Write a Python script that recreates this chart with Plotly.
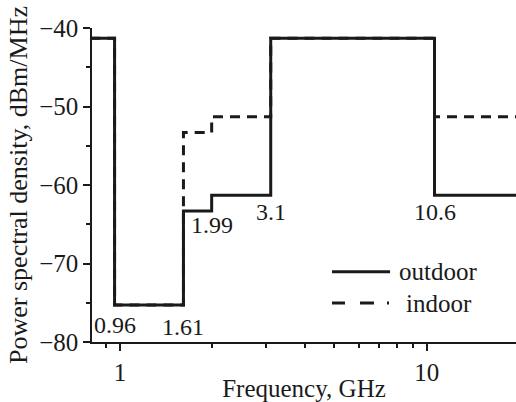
import plotly.graph_objects as go
import math

# Frequency band edges (GHz) and mask levels (dBm/MHz)
freq_edges = [0.8, 0.96, 1.61, 1.99, 3.1, 10.6, 20.0]
outdoor_levels = [-41.3, -75.3, -63.3, -61.3, -41.3, -61.3, -61.3]
indoor_levels = [-41.3, -75.3, -53.3, -51.3, -41.3, -51.3, -51.3]

# Edge labels
label_freqs = [0.96, 1.61, 1.99, 3.1, 10.6]
label_texts = ["0.96", "1.61", "1.99", "3.1", "10.6"]
label_levels = [-77.8, -78.1, -65.1, -63.4, -63.4]

x_tickvals = [1, 10]
x_minor = [0.9, 2, 3, 4, 5, 6, 7, 8, 9]
y_tickvals = [-80, -70, -60, -50, -40]
y_minor = [-75, -65, -55, -45]

FONT = "'Liberation Serif', 'Times New Roman', Times, serif"
INK = "#1a1a1a"

fig = go.Figure()
fig.add_trace(go.Scatter(x=freq_edges, y=indoor_levels, mode="lines", line_shape="hv",
                         line=dict(color=INK, width=3, dash="10px,7px"),
                         name="indoor", showlegend=False))
fig.add_trace(go.Scatter(x=freq_edges, y=outdoor_levels, mode="lines", line_shape="hv",
                         line=dict(color=INK, width=3),
                         name="outdoor", showlegend=False))

for f, t, lv in zip(label_freqs, label_texts, label_levels):
    fig.add_annotation(x=math.log10(f), y=lv, text=t, showarrow=False,
                       font=dict(family=FONT, size=24, color=INK))

# Legend (drawn manually)
fig.add_shape(type="line", xref="paper", yref="paper", x0=0.566, x1=0.703, y0=0.224, y1=0.224,
              line=dict(color=INK, width=3))
fig.add_shape(type="line", xref="paper", yref="paper", x0=0.566, x1=0.705, y0=0.124, y1=0.124,
              line=dict(color=INK, width=3, dash="13px,15px,14px,13px,2px,20px"))
fig.add_annotation(xref="paper", yref="paper", x=0.719, y=0.224, xanchor="left", yanchor="middle",
                   text="outdoor", showarrow=False, font=dict(family=FONT, size=25, color=INK))
fig.add_annotation(xref="paper", yref="paper", x=0.736, y=0.124, xanchor="left", yanchor="middle",
                   text="indoor", showarrow=False, font=dict(family=FONT, size=25, color=INK))

fig.update_layout(
    width=516, height=402,
    margin=dict(l=92, r=0, t=28, b=60),
    plot_bgcolor="white", paper_bgcolor="white",
    font=dict(family=FONT, size=25, color=INK),
    showlegend=False,
)
fig.update_xaxes(type="log", range=[-0.0913, 1.291], showgrid=False, zeroline=False, automargin=False,
                 showline=True, linecolor=INK, linewidth=1.5,
                 tickvals=x_tickvals, ticktext=["1", "10"], ticks="outside", ticklen=7, tickwidth=1.5,
                 tickcolor=INK, tickfont=dict(family=FONT, size=25, color=INK),
                 minor=dict(tickvals=x_minor, ticks="outside", ticklen=4, tickwidth=1.5, tickcolor=INK),
                 title=dict(text="Frequency, GHz", font=dict(family=FONT, size=25, color=INK), standoff=4))
fig.update_yaxes(range=[-80, -40], showgrid=False, zeroline=False, automargin=False,
                 showline=True, linecolor=INK, linewidth=1.5,
                 tickvals=y_tickvals, ticks="outside", ticklen=7, tickwidth=1.5, tickcolor=INK,
                 tickfont=dict(family=FONT, size=25, color=INK),
                 minor=dict(tickvals=y_minor, ticks="outside", ticklen=4, tickwidth=1.5, tickcolor=INK),
                 title=dict(text="Power spectral density, dBm/MHz", font=dict(family=FONT, size=26, color=INK), standoff=4))

fig.write_html("out.html", config={"displayModeBar": False},
               post_script="document.body.style.margin='0';")
